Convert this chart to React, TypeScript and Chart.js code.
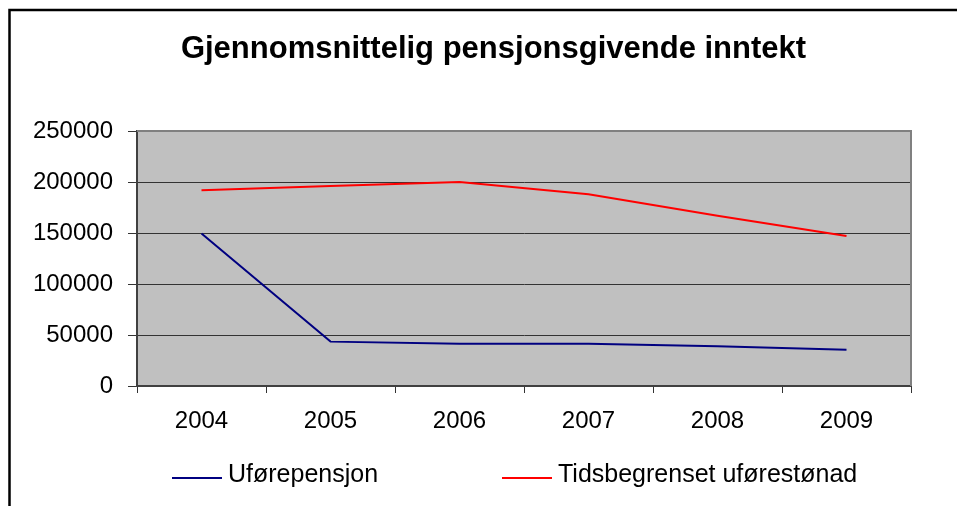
import React, { useEffect, useRef } from "react";
import { Chart, registerables } from "chart.js";

Chart.register(...registerables);

const TITLE = "Gjennomsnittelig pensjonsgivende inntekt";
const years = ["2004", "2005", "2006", "2007", "2008", "2009"];
const uforepensjon = [149500, 43500, 41500, 41500, 39000, 35500];
const tidsbegrenset = [192000, 196000, 200000, 188000, 167000, 147000];
const seriesNames = ["Uførepensjon", "Tidsbegrenset uførestønad"];
const seriesColors = ["#000080", "#FF0000"];
const yMax = 250000;
const yStep = 50000;

const FONT = "'Liberation Sans', Arial, sans-serif";

const framePlugin = {
  id: "frame",
  beforeDraw(chart: any) {
    const { ctx, chartArea: a, width, height } = chart;
    ctx.save();
    ctx.fillStyle = "#ffffff";
    ctx.fillRect(0, 0, width, height);
    ctx.strokeStyle = "#000000";
    ctx.lineWidth = 2.5;
    ctx.beginPath();
    ctx.moveTo(9.5, height);
    ctx.lineTo(9.5, 10);
    ctx.lineTo(width, 10);
    ctx.stroke();
    ctx.fillStyle = "#C0C0C0";
    ctx.fillRect(a.left, a.top, a.right - a.left, a.bottom - a.top);
    ctx.restore();
  },
  beforeDatasetsDraw(chart: any) {
    const { ctx, chartArea: a } = chart;
    ctx.save();
    ctx.strokeStyle = "#808080";
    ctx.lineWidth = 2;
    ctx.beginPath();
    ctx.moveTo(a.left, a.top);
    ctx.lineTo(a.right, a.top);
    ctx.lineTo(a.right, a.bottom);
    ctx.stroke();
    ctx.restore();
  },
};

const legendPos = [
  { x: 172, y: 478 },
  { x: 502, y: 478 },
];

const legendPlugin = {
  id: "customLegend",
  afterDraw(chart: any) {
    const { ctx } = chart;
    ctx.save();
    ctx.font = `25px ${FONT}`;
    ctx.textBaseline = "middle";
    ctx.textAlign = "left";
    chart.data.datasets.forEach((ds: any, i: number) => {
      const p = legendPos[i];
      ctx.strokeStyle = ds.borderColor;
      ctx.lineWidth = 2;
      ctx.beginPath();
      ctx.moveTo(p.x, p.y);
      ctx.lineTo(p.x + 50, p.y);
      ctx.stroke();
      ctx.fillStyle = "#000000";
      ctx.fillText(ds.label, p.x + 56, p.y - 3);
    });
    ctx.restore();
  },
};

export default function App() {
  const ref = useRef<HTMLCanvasElement>(null);
  useEffect(() => {
    document.body.style.margin = "0";
    const chart = new Chart(ref.current as HTMLCanvasElement, {
      type: "line",
      data: {
        labels: years,
        datasets: [
          {
            label: seriesNames[0],
            data: uforepensjon,
            borderColor: seriesColors[0],
            backgroundColor: seriesColors[0],
            borderWidth: 2,
            pointRadius: 0,
            tension: 0,
          },
          {
            label: seriesNames[1],
            data: tidsbegrenset,
            borderColor: seriesColors[1],
            backgroundColor: seriesColors[1],
            borderWidth: 2,
            pointRadius: 0,
            tension: 0,
          },
        ],
      },
      options: {
        animation: false,
        responsive: false,
        maintainAspectRatio: false,
        layout: { padding: { left: 30, right: 0, top: 0, bottom: 70 } },
        plugins: {
          legend: { display: false },
          tooltip: { enabled: false },
          title: {
            display: true,
            text: TITLE,
            color: "#000000",
            font: { family: FONT, size: 31, weight: "bold" },
            padding: { top: 30.5, bottom: 63.3 },
          },
        },
        scales: {
          x: {
            offset: true,
            grid: {
              display: true,
              offset: true,
              drawOnChartArea: false,
              drawTicks: true,
              tickLength: 7,
              color: "#333333",
              tickColor: "#333333",
              lineWidth: 1,
            },
            border: { display: true, color: "#404040", width: 2 },
            ticks: {
              color: "#000000",
              font: { family: FONT, size: 24 },
              padding: 14,
              maxRotation: 0,
              autoSkip: false,
            },
            afterFit(scale: any) {
              scale.height = 50;
            },
          },
          y: {
            min: 0,
            max: yMax,
            grid: {
              color: "#333333",
              tickColor: "#333333",
              lineWidth: 1,
              tickLength: 9,
            },
            border: { display: true, color: "#404040", width: 2 },
            ticks: {
              stepSize: yStep,
              color: "#000000",
              font: { family: FONT, size: 24 },
              padding: 15,
              callback: (v: any) => String(v),
            },
            afterFit(scale: any) {
              scale.width = 107;
            },
          },
          yRightSpace: {
            position: "right",
            min: 0,
            max: yMax,
            display: true,
            grid: { display: false, drawTicks: false },
            border: { display: false },
            ticks: { display: false },
            afterFit(scale: any) {
              scale.width = 46;
            },
          },
        },
      },
      plugins: [framePlugin, legendPlugin],
    } as any);
    return () => chart.destroy();
  }, []);
  return (
    <div style={{ width: 957, height: 506 }}>
      <canvas ref={ref} width={957} height={506} style={{ display: "block" }} />
    </div>
  );
}
